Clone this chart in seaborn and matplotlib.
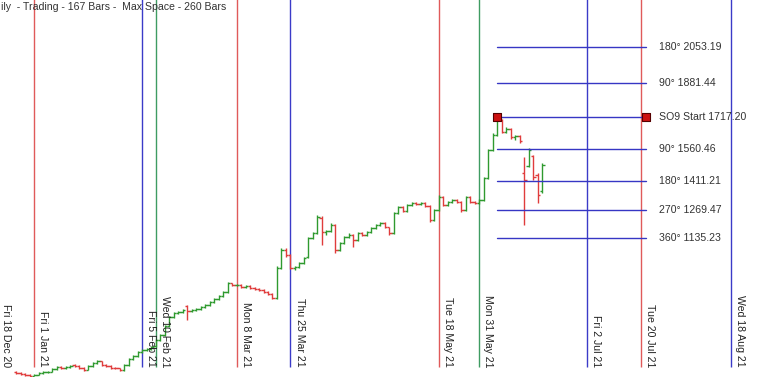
import numpy as np
import pandas as pd
import seaborn as sns
import matplotlib
matplotlib.use("Agg")
import matplotlib.pyplot as plt

# exchange holidays (no bars on these days)
holidays = ["2020-12-25", "2021-01-26", "2021-03-11", "2021-03-29", "2021-04-02",
            "2021-04-14", "2021-04-21", "2021-05-13", "2021-07-21"]

# daily bars (price units)
first_bar = "2020-12-28"
opens = [490, 486, 481, 477, 472, 477, 486, 489, 491, 506,
         515, 510, 515, 524, 520, 510, 501, 520, 534, 544,
         525, 520, 510, 508, 501, 525, 554, 568, 587, 597,
         602, 615, 645, 669, 712, 756, 775, 780, 808, 785,
         789, 794, 804, 813, 828, 842, 856, 876, 917, 909,
         911, 900, 904, 895, 890, 885, 876, 866, 847, 991,
         1077, 1053, 991, 995, 1015, 1045, 1135, 1159, 1230, 1164,
         1170, 1198, 1077, 1111, 1140, 1150, 1126, 1159, 1150, 1164,
         1183, 1198, 1207, 1186, 1159, 1255, 1284, 1265, 1294, 1303,
         1299, 1303, 1289, 1222, 1270, 1332, 1294, 1308, 1318, 1308,
         1270, 1332, 1308, 1303, 1318, 1424, 1558, 1630, 1700, 1645,
         1660, 1620, 1625, 1448, 1481, 1529, 1440, 1360]
highs = [495, 489, 484, 480, 482, 490, 496, 497, 510, 519,
         518, 520, 524, 528, 523, 514, 524, 538, 548, 546,
         529, 523, 515, 511, 530, 558, 572, 591, 601, 606,
         615, 649, 674, 717, 760, 780, 785, 794, 812, 793,
         799, 808, 818, 832, 846, 860, 880, 924, 921, 916,
         914, 909, 907, 899, 894, 889, 880, 870, 1000, 1087,
         1085, 1058, 1000, 1020, 1044, 1140, 1164, 1245, 1240, 1175,
         1205, 1202, 1116, 1145, 1160, 1154, 1164, 1165, 1170, 1188,
         1203, 1212, 1211, 1190, 1260, 1289, 1288, 1299, 1308, 1310,
         1308, 1306, 1292, 1275, 1340, 1336, 1313, 1323, 1322, 1312,
         1337, 1336, 1312, 1323, 1429, 1563, 1640, 1717.20, 1705, 1668,
         1664, 1632, 1628, 1524, 1568, 1534, 1448, 1496]
lows = [482, 478, 474, 468, 470, 475, 483, 486, 489, 503,
        505, 507, 512, 515, 506, 497, 499, 517, 530, 521,
        515, 506, 504, 497, 498, 522, 549, 565, 583, 592,
        598, 612, 641, 665, 708, 751, 770, 776, 741, 780,
        784, 790, 800, 809, 824, 838, 852, 872, 903, 902,
        895, 896, 890, 885, 880, 871, 861, 840, 843, 985,
        1045, 985, 982, 990, 1010, 1040, 1130, 1155, 1102, 1150,
        1165, 1063, 1072, 1106, 1135, 1092, 1120, 1145, 1146, 1160,
        1178, 1194, 1183, 1150, 1155, 1250, 1260, 1260, 1290, 1294,
        1295, 1284, 1212, 1218, 1265, 1289, 1290, 1304, 1303, 1260,
        1265, 1303, 1298, 1299, 1313, 1419, 1553, 1625, 1640, 1640,
        1610, 1606, 1592, 1198, 1476, 1414, 1303, 1351]
closes = [486, 481, 477, 472, 477, 486, 491, 491, 506, 515,
          510, 515, 520, 520, 510, 501, 520, 534, 544, 525,
          520, 510, 508, 501, 525, 554, 568, 587, 597, 602,
          611, 645, 669, 712, 756, 775, 780, 789, 785, 789,
          794, 804, 813, 828, 842, 856, 876, 919, 909, 911,
          900, 904, 895, 890, 885, 876, 866, 847, 991, 1077,
          1053, 991, 995, 1015, 1039, 1135, 1159, 1236, 1164, 1170,
          1198, 1077, 1111, 1140, 1150, 1126, 1159, 1150, 1164, 1183,
          1198, 1207, 1188, 1159, 1255, 1284, 1265, 1294, 1303, 1299,
          1303, 1289, 1222, 1270, 1332, 1294, 1308, 1318, 1308, 1270,
          1332, 1308, 1303, 1318, 1424, 1558, 1630, 1702, 1645, 1660,
          1620, 1625, 1601, 1414, 1558, 1430, 1340, 1486]

# time markers on the chart
origin = "2020-12-18"
line_dates = ["2020-12-18", "2021-01-01", "2021-02-05", "2021-02-10", "2021-03-08",
              "2021-03-25", "2021-05-18", "2021-05-31", "2021-07-02", "2021-07-20",
              "2021-08-18"]
line_kinds = ["red", "red", "blue", "green", "red", "blue", "red", "green",
              "blue", "red", "blue"]

# square of nine levels
so9_start = "2021-06-04"
so9_end = "2021-07-22"
level_deg = ["180°", "90°", "SO9 Start", "90°", "180°", "270°", "360°"]
level_price = [2053.19, 1881.44, 1717.20, 1560.46, 1411.21, 1269.47, 1135.23]

title = "ily  - Trading - 167 Bars -  Max Space - 260 Bars"

sns.set_style("white")
plt.rcParams['font.family'] = ['Liberation Sans', 'DejaVu Sans']

col = {"red": "#e05a5a", "blue": "#3b3bc8", "green": "#3f9c62"}
up_col = "#2f9a2f"
dn_col = "#e03c3c"


def bar_pos(d):
    # position = trading-bar count since the origin date
    return np.busday_count(np.datetime64(origin), np.asarray(d, dtype="datetime64[D]"),
                           holidays=holidays)


dates = pd.bdate_range(first_bar, periods=len(closes), freq="C", holidays=holidays)
df = pd.DataFrame({"date": dates, "open": opens, "high": highs,
                   "low": lows, "close": closes})
df["x"] = bar_pos(df["date"].values.astype("datetime64[D]"))
df["color"] = np.where(df["close"] >= df["open"], up_col, dn_col)

fig = plt.figure(figsize=(7.8, 3.77), dpi=100)
ax = fig.add_axes([0, 0, 1, 1])
x_left, x_right = 1.38, 174.9
ax.set_xlim(x_left, x_right)
ax.set_ylim(467, 2279)
ax.set_axis_off()

# vertical date lines + rotated labels
line_bottom = 515
for d, k in zip(line_dates, line_kinds):
    x = bar_pos(d)
    ax.vlines(x, line_bottom, 2400, color=col[k], lw=1, zorder=1)
    ts = pd.Timestamp(d)
    lab = f"{ts:%a} {ts.day} {ts:%b %y}"
    # keep the first label inside the frame
    ax.text(max(x + 0.9, x_left + 0.25), line_bottom, lab, rotation=270, ha="left",
            va="bottom", fontsize=7.6, color="#222222", zorder=3)

# OHLC bars
tick = 0.55
ax.vlines(df["x"], df["low"], df["high"], colors=df["color"], lw=1, zorder=2)
ax.hlines(df["open"], df["x"] - tick, df["x"], colors=df["color"], lw=1, zorder=2)
ax.hlines(df["close"], df["x"], df["x"] + tick, colors=df["color"], lw=1, zorder=2)

# levels
xs = bar_pos(so9_start)
xe = bar_pos(so9_end)
lv = pd.DataFrame({"deg": level_deg, "price": level_price})
for _, r in lv.iterrows():
    sns.lineplot(x=[xs, xe], y=[r["price"], r["price"]], ax=ax, color="#3636c4",
                 lw=1, zorder=2)
    ax.text(xe + 3.0, r["price"], f"{r['deg']} {r['price']:.2f}", ha="left",
            va="center", fontsize=7.6, color="#333333", zorder=3)
sns.scatterplot(x=[xs, xe], y=[level_price[2]] * 2, ax=ax, marker="s", s=28,
                color="#cc1111", edgecolor="#550000", linewidth=0.8, zorder=4)

fig.text(0.001, 0.982, title, ha="left", va="center", fontsize=7.6, color="#333333")

fig.savefig("out.png", dpi=100)
